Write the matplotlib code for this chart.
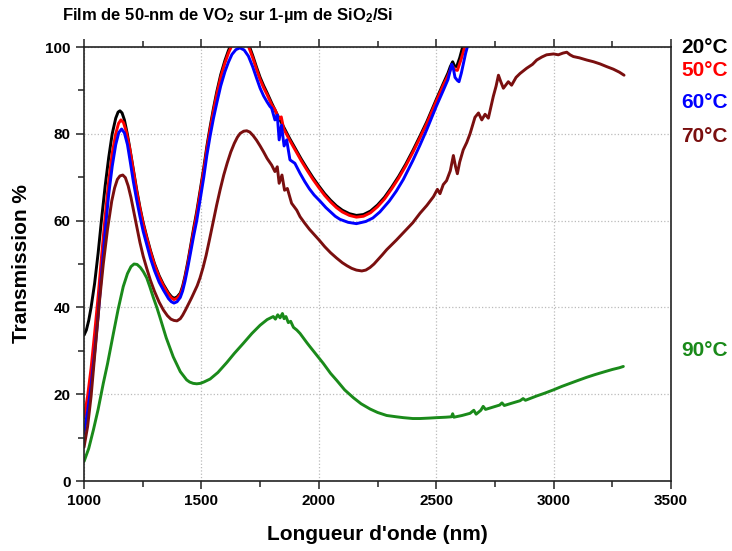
import matplotlib
matplotlib.use("Agg")
from matplotlib import pyplot as plt
from matplotlib.ticker import MultipleLocator

plt.rcParams["font.family"] = ["Liberation Sans", "DejaVu Sans"]
plt.rcParams["font.weight"] = "bold"
plt.rcParams["mathtext.fontset"] = "custom"
plt.rcParams["mathtext.bf"] = "Liberation Sans:bold"
plt.rcParams["mathtext.rm"] = "Liberation Sans:bold"
plt.rcParams["mathtext.default"] = "bf"

# transmission spectra, wavelength (nm) / transmission (%)
wl_20 = [1000, 1010, 1020, 1030, 1045, 1060, 1075, 1090, 1105, 1120, 1135, 1145,
         1153, 1162, 1172, 1185, 1197, 1210, 1224, 1238, 1252, 1267, 1283, 1300,
         1320, 1338, 1360, 1372, 1383, 1396, 1410, 1420, 1430, 1442, 1455, 1467,
         1480, 1495, 1510, 1523, 1537, 1551, 1565, 1582, 1600, 1615, 1630, 1647,
         1665, 1682, 1700, 1718, 1735, 1750, 1765, 1780, 1800, 1825, 1850, 1875,
         1900, 1925, 1950, 1975, 2000, 2025, 2050, 2075, 2100, 2130, 2160, 2190,
         2220, 2250, 2280, 2310, 2340, 2370, 2400, 2430, 2460, 2500, 2530, 2550,
         2560, 2570, 2578, 2587, 2600, 2615]
t_20 = [33.6, 34.8, 37.0, 40.0, 45.5, 52.5, 60.5, 68.0, 74.5, 80.0, 83.6, 85.0,
        85.3, 84.8, 83.2, 79.8, 76.0, 71.8, 67.2, 63.1, 59.5, 56.3, 53.1, 50.1,
        47.3, 45.3, 43.3, 42.5, 42.1, 42.4, 43.3, 44.9, 47.2, 50.5, 54.5, 58.3,
        62.1, 67.1, 72.2, 77.1, 81.6, 85.8, 89.6, 93.6, 96.9, 99.2, 101.0, 102.2,
        102.6, 102.1, 100.8, 98.1, 95.3, 93.0, 91.1, 89.4, 87.0, 84.2, 81.6, 79.0,
        76.6, 74.2, 72.0, 69.9, 68.0, 66.2, 64.7, 63.4, 62.4, 61.6, 61.2, 61.4,
        62.2, 63.6, 65.4, 67.7, 70.2, 73.0, 76.1, 79.4, 82.8, 87.9, 91.6, 94.0,
        95.5, 96.6, 95.6, 95.5, 97.5, 100.5]

wl_50 = [1000, 1015, 1030, 1045, 1060, 1075, 1090, 1105, 1120, 1135, 1147, 1157,
         1168, 1180, 1195, 1210, 1224, 1238, 1252, 1267, 1283, 1300, 1320, 1338,
         1360, 1372, 1383, 1396, 1410, 1420, 1430, 1442, 1455, 1467, 1480, 1495,
         1510, 1523, 1537, 1551, 1565, 1582, 1600, 1615, 1630, 1647, 1665, 1682,
         1700, 1718, 1735, 1750, 1765, 1780, 1800, 1813, 1830, 1840, 1850, 1875,
         1900, 1925, 1950, 1975, 2000, 2025, 2050, 2075, 2100, 2130, 2160, 2190,
         2220, 2250, 2280, 2310, 2340, 2370, 2400, 2430, 2460, 2500, 2530, 2550,
         2562, 2570, 2578, 2590, 2605, 2615, 2623]
t_50 = [14.5, 19.5, 26.0, 34.0, 42.5, 52.0, 61.0, 69.0, 75.5, 80.0, 82.4, 83.2,
        82.6, 80.5, 76.5, 71.5, 66.8, 62.8, 59.2, 56.0, 52.8, 49.8, 47.0, 45.0,
        43.0, 42.2, 41.8, 42.1, 43.0, 44.5, 46.8, 50.0, 54.0, 57.7, 61.5, 66.5,
        71.6, 76.5, 81.0, 85.2, 89.0, 93.0, 96.3, 98.6, 100.4, 101.6, 102.0, 101.5,
        100.2, 97.6, 94.8, 92.5, 90.6, 89.0, 86.6, 85.6, 83.4, 83.9, 81.2, 78.6,
        76.2, 73.8, 71.6, 69.5, 67.6, 65.8, 64.3, 63.0, 62.0, 61.2, 60.8, 61.0,
        61.8, 63.2, 65.0, 67.3, 69.8, 72.6, 75.7, 79.0, 82.4, 87.5, 91.2, 93.4,
        95.0, 95.6, 94.8, 94.6, 97.0, 98.8, 100.5]

wl_60 = [1000, 1015, 1030, 1045, 1060, 1075, 1090, 1105, 1120, 1135, 1148, 1160,
         1172, 1185, 1197, 1210, 1224, 1238, 1252, 1267, 1283, 1300, 1320, 1338,
         1360, 1372, 1383, 1396, 1410, 1420, 1430, 1442, 1455, 1467, 1480, 1495,
         1510, 1523, 1537, 1551, 1565, 1582, 1600, 1615, 1630, 1647, 1664, 1682,
         1700, 1718, 1735, 1750, 1765, 1780, 1792, 1799, 1813, 1823, 1831, 1841,
         1852, 1863, 1877, 1898, 1920, 1940, 1960, 1980, 2005, 2030, 2050, 2070,
         2090, 2125, 2160, 2200, 2230, 2260, 2300, 2330, 2360, 2400, 2430, 2460,
         2500, 2530, 2550, 2566, 2573, 2580, 2590, 2597, 2607, 2615, 2625, 2635]
t_60 = [11.0, 16.0, 22.0, 29.5, 38.0, 48.0, 57.5, 66.0, 72.5, 77.5, 80.3, 81.1,
        80.2, 77.5, 73.5, 69.0, 64.8, 61.0, 57.5, 54.5, 51.3, 48.5, 45.8, 44.0,
        42.0, 41.3, 41.0, 41.3, 42.3, 43.8, 46.0, 49.2, 53.0, 56.5, 60.0, 65.0,
        70.0, 75.0, 79.5, 83.5, 87.0, 91.0, 94.3, 96.5, 98.3, 99.4, 99.8, 99.3,
        97.9, 95.5, 92.8, 90.5, 88.7, 87.3, 86.3, 85.9, 83.2, 84.3, 78.6, 82.0,
        77.2, 78.6, 74.0, 73.2, 70.9, 69.0, 67.3, 65.9, 64.5, 63.0, 62.0, 61.0,
        60.3, 59.6, 59.3, 59.8, 60.6, 62.0, 64.5, 66.8, 69.5, 73.8, 77.3, 81.0,
        86.3, 90.0, 92.5, 96.0, 95.0, 93.0, 92.3, 92.0, 94.0, 96.0, 98.5, 100.5]

wl_70 = [1000, 1015, 1030, 1047, 1065, 1082, 1100, 1118, 1130, 1142, 1153, 1165,
         1176, 1188, 1200, 1212, 1225, 1238, 1252, 1267, 1283, 1300, 1320, 1338,
         1355, 1370, 1383, 1396, 1410, 1420, 1432, 1445, 1458, 1470, 1482, 1494,
         1507, 1520, 1535, 1551, 1565, 1580, 1595, 1610, 1625, 1640, 1653, 1665,
         1680, 1693, 1706, 1720, 1735, 1750, 1765, 1780, 1799, 1813, 1823, 1831,
         1843, 1854, 1866, 1884, 1906, 1920, 1940, 1960, 1980, 2000, 2025, 2050,
         2075, 2100, 2120, 2140, 2160, 2183, 2200, 2218, 2235, 2250, 2270, 2289,
         2330, 2360, 2400, 2431, 2460, 2488, 2505, 2516, 2530, 2544, 2560, 2573,
         2582, 2590, 2600, 2615, 2630, 2644, 2665, 2680, 2694, 2708, 2722, 2743,
         2755, 2765, 2775, 2786, 2797, 2807, 2821, 2840, 2857, 2885, 2910, 2928,
         2950, 2970, 3000, 3020, 3040, 3056, 3070, 3084, 3110, 3141, 3170, 3198,
         3225, 3254, 3280, 3300]
t_70 = [7.8, 12.5, 19.5, 30.0, 41.0, 50.0, 58.0, 64.5, 67.5, 69.5, 70.3, 70.5,
        69.9, 68.0, 65.3, 62.0, 58.5, 55.0, 51.8, 49.0, 46.2, 43.7, 41.2, 39.4,
        38.1, 37.3, 37.0, 36.9, 37.4, 38.2, 39.4, 40.8, 42.2, 43.6, 45.0, 46.8,
        49.2, 52.0, 55.8, 60.0, 63.6, 67.2, 70.5, 73.3, 75.8, 77.8, 79.2, 80.1,
        80.6, 80.7, 80.4, 79.6, 78.5, 77.2, 75.8, 74.3, 72.8, 71.3, 72.4, 68.6,
        70.5, 67.0, 67.4, 64.0, 62.4, 60.9, 59.4, 58.0, 56.8, 55.6, 54.0, 52.6,
        51.4, 50.3, 49.6, 49.0, 48.6, 48.4, 48.6, 49.2, 50.0, 50.9, 52.1, 53.3,
        55.5, 57.2, 59.5, 61.7, 63.5, 65.5, 67.2, 66.2, 68.3, 69.2, 71.5, 75.0,
        72.5, 70.8, 73.5, 76.3, 78.0, 80.0, 83.8, 84.8, 83.2, 84.5, 83.6, 88.6,
        91.0, 93.5, 92.0, 90.5, 91.3, 92.0, 91.2, 93.0, 93.9, 95.1, 96.0, 97.0,
        97.7, 98.2, 98.4, 98.2, 98.6, 98.8, 98.2, 97.8, 97.5, 97.0, 96.6, 96.1,
        95.5, 94.9, 94.2, 93.5]

wl_90 = [1000, 1020, 1040, 1060, 1082, 1100, 1125, 1145, 1167, 1185, 1200, 1213,
         1226, 1240, 1253, 1267, 1280, 1295, 1310, 1324, 1350, 1380, 1410, 1437,
         1450, 1465, 1480, 1495, 1510, 1537, 1570, 1608, 1640, 1678, 1715, 1750,
         1780, 1806, 1815, 1825, 1835, 1845, 1852, 1860, 1870, 1880, 1892, 1906,
         1920, 1950, 1963, 1991, 2019, 2050, 2076, 2110, 2147, 2180, 2218, 2250,
         2289, 2330, 2360, 2400, 2431, 2470, 2502, 2540, 2565, 2570, 2575, 2610,
         2644, 2660, 2670, 2690, 2700, 2710, 2740, 2770, 2780, 2790, 2820, 2857,
         2870, 2880, 2928, 2960, 2999, 3035, 3070, 3105, 3141, 3175, 3212, 3250,
         3280, 3297]
t_90 = [4.5, 7.5, 11.8, 16.5, 22.5, 27.0, 34.0, 39.5, 44.8, 47.8, 49.4, 50.0,
        49.9, 49.2, 48.2, 46.8, 44.8, 42.3, 40.0, 37.6, 33.0, 28.6, 25.2, 23.3,
        22.8, 22.5, 22.4, 22.5, 22.8, 23.5, 25.0, 27.3, 29.4, 31.7, 34.0, 35.9,
        37.2, 37.9, 37.3, 38.3, 37.6, 38.6, 37.4, 37.9, 36.5, 36.8, 35.4, 34.8,
        34.0, 31.8, 30.9, 29.0, 27.1, 24.8, 23.2, 21.0, 19.2, 17.8, 16.6, 15.8,
        15.1, 14.8, 14.6, 14.4, 14.4, 14.5, 14.6, 14.7, 14.8, 15.5, 14.7, 15.1,
        15.6, 16.3, 15.4, 16.3, 17.2, 16.5, 17.0, 17.5, 18.0, 17.4, 17.9, 18.5,
        19.0, 18.6, 19.6, 20.2, 21.0, 21.8, 22.5, 23.2, 23.9, 24.5, 25.1, 25.7,
        26.1, 26.4]

labels = ["20°C", "50°C", "60°C", "70°C", "90°C"]
label_pos = [1.0, 0.945, 0.871, 0.793, 0.30]
colors = ["#000000", "#ff0000", "#0000ff", "#7a0f0f", "#1a8a1a"]

fig = plt.figure(figsize=(7.32, 5.51), dpi=100)
ax = fig.add_axes([0.1148, 0.127, 0.8019, 0.7877])

series = [(wl_20, t_20), (wl_50, t_50), (wl_60, t_60), (wl_70, t_70), (wl_90, t_90)]
for (wl, t), c in zip(series, colors):
    ax.plot(wl, t, color=c, lw=2.1, solid_joinstyle="round", solid_capstyle="round")

for lab, yp, c in zip(labels, label_pos, colors):
    ax.text(1.018, yp, lab, transform=ax.transAxes, color=c, fontsize=15,
            fontweight="bold", va="center", ha="left")

ax.set_xlim(1000, 3500)
ax.set_ylim(0, 100)
ax.xaxis.set_major_locator(MultipleLocator(500))
ax.xaxis.set_minor_locator(MultipleLocator(250))
ax.yaxis.set_major_locator(MultipleLocator(20))
ax.yaxis.set_minor_locator(MultipleLocator(10))
ax.tick_params(which="both", direction="out", top=True, right=False, width=1.1,
               labelsize=11, color="#222222")
ax.tick_params(which="major", length=6)
ax.tick_params(which="minor", length=4)
for lab in ax.get_xticklabels() + ax.get_yticklabels():
    lab.set_fontweight("bold")
for sp in ax.spines.values():
    sp.set_linewidth(1.2)
    sp.set_color("#222222")

ax.grid(True, which="major", color="#bbbbbb", ls=":", lw=0.9)

ax.set_xlabel("Longueur d'onde (nm)", fontsize=15, fontweight="bold", labelpad=12)
ax.set_ylabel("Transmission %", fontsize=15, fontweight="bold", labelpad=10)
fig.text(0.085, 0.972, "Film de 50-nm de VO$_2$ sur 1-µm de SiO$_2$/Si",
         fontsize=12, fontweight="bold", va="center", ha="left")

fig.savefig("out.png", dpi=100)
